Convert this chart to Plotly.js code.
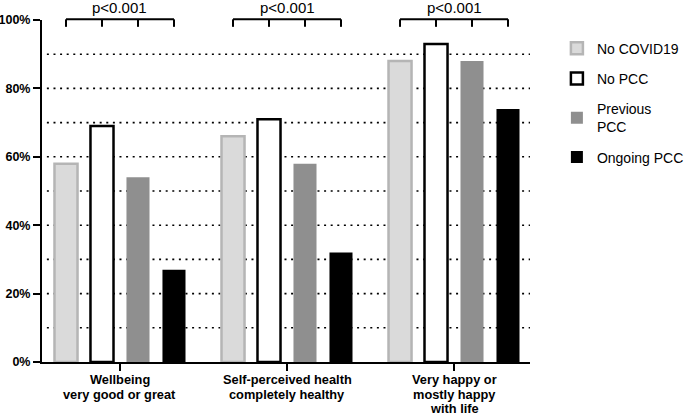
<!DOCTYPE html>
<html>
<head>
<meta charset="utf-8">
<script src="https://cdn.plot.ly/plotly-3.0.1.min.js"></script>
<style>
  html, body { margin: 0; padding: 0; background: #fff; }
  #chart { width: 685px; height: 415px; }
</style>
</head>
<body>
<div id="chart"></div>
<script>
  // categories and series values (percent)
  const categories = [
    "Wellbeing<br>very good or great",
    "Self-perceived health<br>completely healthy",
    "Very happy or<br>mostly happy<br>with life"
  ];
  const noCovid = [58, 66, 88];
  const noPcc = [69, 71, 93];
  const previousPcc = [54, 58, 88];
  const ongoingPcc = [27, 32, 74];
  const pLabels = ["p<0.001", "p<0.001", "p<0.001"];
  const gridVals = [10, 20, 30, 40, 50, 60, 70, 80, 90];
  const yTicks = [0, 20, 40, 60, 80, 100];

  const font = "Arial, 'Liberation Sans', sans-serif";
  const bargap = 0.138;
  const nSeries = 4;

  function barTrace(name, y, fill, lineColor, lineWidth) {
    return {
      type: "bar",
      name: name,
      legendgroup: name,
      x: categories,
      y: y,
      marker: { color: fill, line: { color: lineColor, width: lineWidth } },
      hoverinfo: "y+name"
    };
  }

  const data = [
    barTrace("No COVID19", noCovid, "#dadada", "#b5b5b5", 2.5),
    barTrace("No PCC", noPcc, "#ffffff", "#000000", 2.5),
    barTrace("Previous<br>PCC", previousPcc, "#8f8f8f", "#8f8f8f", 0),
    barTrace("Ongoing PCC", ongoingPcc, "#000000", "#000000", 0)
  ];

  // dotted grid lines behind the bars
  let shapes = gridVals.map(v => ({
    type: "line", xref: "paper", yref: "y", layer: "below",
    x0: 0.01, x1: 1, y0: v, y1: v,
    line: { color: "#000", width: 1.6, dash: "2px,4.6px" }
  }));

  // significance brackets over each group, spanning the bar centres
  const slot = (1 - bargap) / nSeries;
  const offsets = [];
  for (let i = 0; i < nSeries; i++) offsets.push(-0.5 * (1 - bargap) + slot * (i + 0.5));
  const brTop = 1.002, brBottom = 0.980;
  categories.forEach((c, ci) => {
    shapes.push({
      type: "line", xref: "x", yref: "paper",
      x0: ci + offsets[0], x1: ci + offsets[nSeries - 1], y0: brTop, y1: brTop,
      line: { color: "#000", width: 2 }
    });
    offsets.forEach(o => {
      shapes.push({
        type: "line", xref: "x", yref: "paper",
        x0: ci + o, x1: ci + o, y0: brTop, y1: brBottom,
        line: { color: "#000", width: 2 }
      });
    });
  });

  const annotations = pLabels.map((t, ci) => ({
    xref: "x", yref: "paper", x: ci, y: 1.038,
    xanchor: "center", yanchor: "middle",
    text: t, showarrow: false,
    font: { family: font, size: 15, color: "#000" }
  }));

  // category labels, one annotation per line so the line spacing stays tight
  categories.forEach((c, ci) => {
    c.split("<br>").forEach((line, li) => {
      annotations.push({
        xref: "x", yref: "paper", x: ci, y: 0,
        xanchor: "center", yanchor: "middle",
        yshift: -17.5 - 14.5 * li,
        text: line, showarrow: false,
        font: { family: font, size: 12.8, color: "#000", weight: "bold" }
      });
    });
  });

  const layout = {
    width: 685,
    height: 415,
    margin: { l: 42, r: 155, t: 20, b: 52.5 },
    paper_bgcolor: "#fff",
    plot_bgcolor: "#fff",
    barmode: "group",
    bargap: bargap,
    bargroupgap: 0.36,
    font: { family: font, color: "#000" },
    showlegend: true,
    legend: {
      xref: "container", x: 0.813, xanchor: "left",
      y: 0.963, yanchor: "top",
      font: { family: font, size: 14, color: "#000" },
      tracegroupgap: 9
    },
    xaxis: {
      type: "category",
      range: [-0.467, 2.455],
      showline: true, linecolor: "#000", linewidth: 2,
      ticks: "outside", ticklen: 7, tickwidth: 2, tickcolor: "#000",
      showgrid: false, zeroline: false,
      showticklabels: false,
      fixedrange: true
    },
    yaxis: {
      range: [0, 100],
      tickvals: yTicks,
      ticktext: yTicks.map(v => v + "%"),
      showline: true, linecolor: "#000", linewidth: 2,
      ticks: "outside", ticklen: 7, tickwidth: 2, tickcolor: "#000",
      showgrid: false, zeroline: false,
      tickfont: { family: font, size: 12.5, color: "#000", weight: "bold" },
      fixedrange: true
    },
    shapes: shapes,
    annotations: annotations
  };

  Plotly.newPlot("chart", data, layout, { displayModeBar: false, staticPlot: true });
</script>
</body>
</html>
